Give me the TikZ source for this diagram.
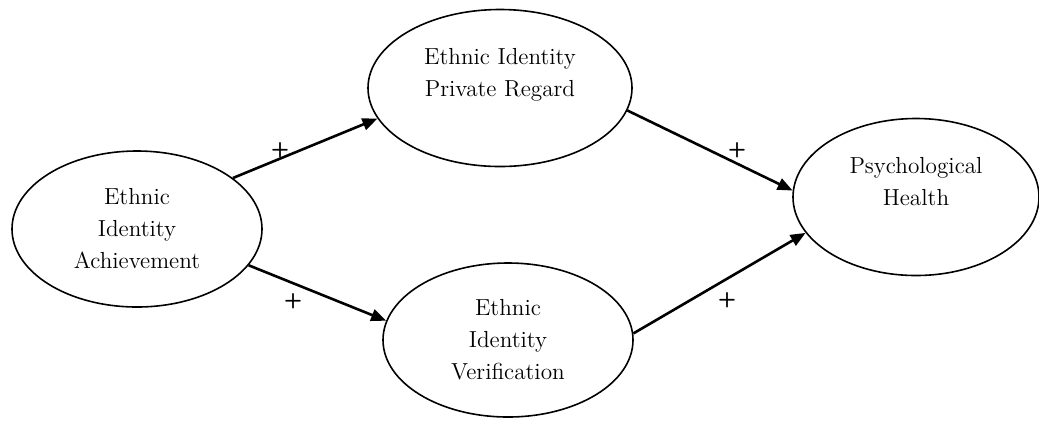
\documentclass[tikz,border=0pt]{standalone}
\usepackage{xcolor}
\usepackage{tikz}
\usetikzlibrary{shapes.geometric,arrows.meta}

\begin{document}
\begin{tikzpicture}[x=0.5pt, y=-0.5pt,
    latent/.style={draw, ellipse, line width=0.8pt, inner sep=0pt, align=center,
        font=\fontsize{11.6}{16}\selectfont},
    link/.style={line width=1.3pt, -{Triangle[length=7.5pt,width=6pt]}},
    sign/.style={inner sep=0pt, font=\sffamily\bfseries\fontsize{10.5}{11}\selectfont}]
    % Fix the page to the size of the figure
    \useasboundingbox (0,0) rectangle (1039,420);

    % Draw the four constructs
    \node[latent, minimum width=125pt, minimum height=78pt] (ach) at (137,229)
        {Ethnic\\Identity\\Achievement};
    \node[latent, minimum width=132pt, minimum height=78.5pt] (reg) at (500,88)
        {Ethnic Identity\\Private Regard\\\mbox{}};
    \node[latent, minimum width=125pt, minimum height=77pt] (ver) at (508,340)
        {Ethnic\\Identity\\Verification};
    \node[latent, minimum width=123pt, minimum height=78.5pt] (health) at (916,197)
        {Psychological\\Health\\\mbox{}};

    % Draw the paths between them
    \draw[link] (ach.28) -- (reg.194);
    \draw[link] (ach.342) -- (ver.171);
    \draw[link] (reg.350) -- (health.177);
    \draw[link] (ver.3) -- (health.198);

    % Signs of the paths
    \node[sign] (s1) at (280,150) {+};
    \node[sign] (s2) at (293,301) {+};
    \node[sign] (s3) at (737,150) {+};
    \node[sign] (s4) at (727,300) {+};
\end{tikzpicture}
\end{document}
